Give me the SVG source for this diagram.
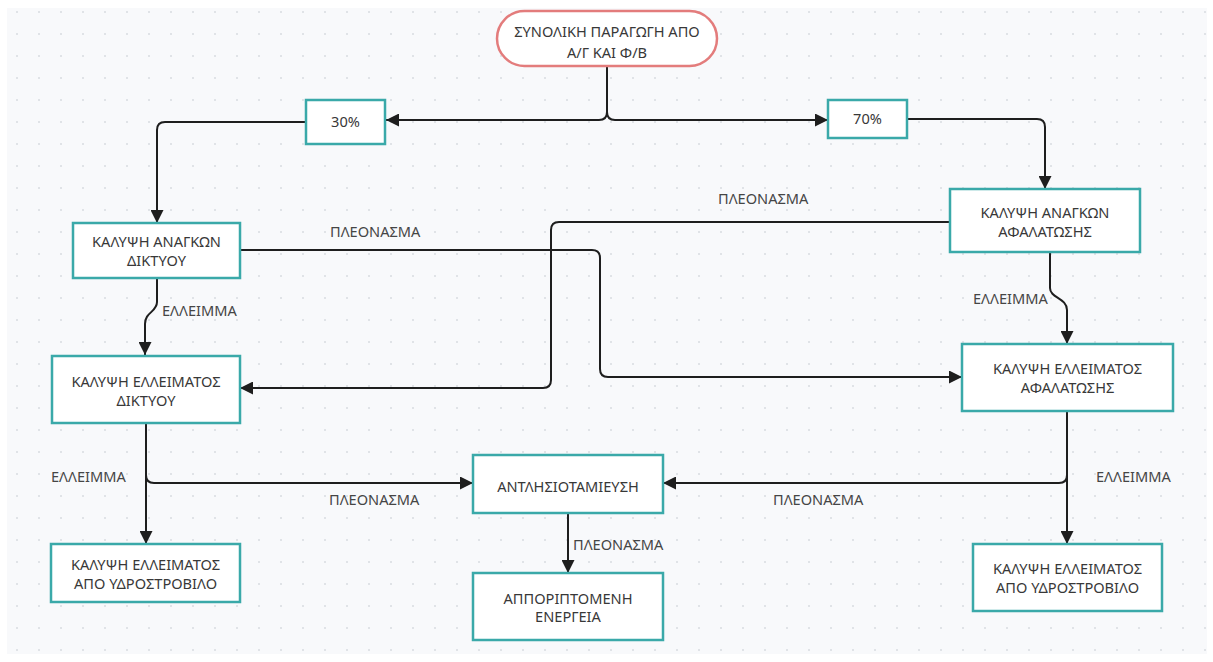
<svg xmlns="http://www.w3.org/2000/svg" width="1213" height="662" viewBox="0 0 1213 662">
  <defs>
    <pattern id="dots" x="6" y="1" width="22" height="22" patternUnits="userSpaceOnUse">
      <circle cx="11" cy="11" r="1" fill="#d9dce1"/>
    </pattern>
    <marker id="arrow" viewBox="0 0 12 12" refX="12" refY="6" markerWidth="13" markerHeight="13" markerUnits="userSpaceOnUse" orient="auto">
      <path d="M0,0 L12,6 L0,12 z" fill="#1e1e1e"/>
    </marker>
    <style>
      .box { fill: #ffffff; stroke: #3aa9a9; stroke-width: 2.5; }
      .start { fill: #ffffff; stroke: #e37c7c; stroke-width: 2.5; }
      .edge { fill: none; stroke: #1e1e1e; stroke-width: 2; stroke-linejoin: round; }
      .arr { marker-end: url(#arrow); }
      text { font-family: "Noto Sans", "Liberation Sans", sans-serif; font-size: 14.6px; fill: #383838; text-anchor: middle; }
      .lbl { fill: #454545; text-anchor: start; }
    </style>
  </defs>

  <!-- canvas -->
  <rect x="0" y="0" width="1213" height="662" fill="#ffffff"/>
  <rect x="7" y="8" width="1200" height="646" fill="#f8f9fb"/>
  <rect x="7" y="8" width="1200" height="646" fill="url(#dots)"/>

  <!-- connectors -->
  <g id="connectors">
    <path class="edge arr" d="M607,66 V112 Q607,120 599,120 H386"/>
    <path class="edge arr" d="M607,66 V112 Q607,120 615,120 H828"/>
    <path class="edge arr" d="M306,122 H165 Q157,122 157,130 V223"/>
    <path class="edge arr" d="M907,119 H1037 Q1045,119 1045,127 V189"/>
    <path class="edge arr" d="M157,278 V302 C157,312 145,312 145,324 V355"/>
    <path class="edge arr" d="M1050,252 V288 C1050,298 1067,298 1067,310 V344"/>
    <path class="edge arr" d="M240,250 H592 Q600,250 600,258 V369 Q600,377 608,377 H962"/>
    <path class="edge arr" d="M950,222 H559 Q551,222 551,230 V380 Q551,388 543,388 H240"/>
    <path class="edge arr" d="M146,423 V544"/>
    <path class="edge arr" d="M146,475 Q146,483 154,483 H473"/>
    <path class="edge arr" d="M1067,411 V544"/>
    <path class="edge arr" d="M1067,475 Q1067,483 1059,483 H663"/>
    <path class="edge arr" d="M568,513 V573"/>

    <text class="lbl" x="330" y="237">ΠΛΕΟΝΑΣΜΑ</text>
    <text class="lbl" x="718" y="204">ΠΛΕΟΝΑΣΜΑ</text>
    <text class="lbl" x="162" y="316">ΕΛΛΕΙΜΜΑ</text>
    <text class="lbl" x="973" y="304">ΕΛΛΕΙΜΜΑ</text>
    <text class="lbl" x="51" y="482">ΕΛΛΕΙΜΜΑ</text>
    <text class="lbl" x="329" y="505">ΠΛΕΟΝΑΣΜΑ</text>
    <text class="lbl" x="573" y="550">ΠΛΕΟΝΑΣΜΑ</text>
    <text class="lbl" x="773" y="505">ΠΛΕΟΝΑΣΜΑ</text>
    <text class="lbl" x="1096" y="482">ΕΛΛΕΙΜΜΑ</text>
  </g>

  <!-- nodes -->
  <g id="total-production">
    <rect class="start" x="497" y="11" width="220" height="55" rx="27.5"/>
    <text x="607" y="37">ΣΥΝΟΛΙΚΗ ΠΑΡΑΓΩΓΗ ΑΠΟ</text>
    <text x="607" y="58">Α/Γ ΚΑΙ Φ/Β</text>
  </g>
  <g id="share-30">
    <rect class="box" x="306" y="100" width="79" height="44"/>
    <text x="345.5" y="127">30%</text>
  </g>
  <g id="share-70">
    <rect class="box" x="828" y="100" width="79" height="38"/>
    <text x="867.5" y="124">70%</text>
  </g>
  <g id="grid-needs">
    <rect class="box" x="73" y="223" width="167" height="55"/>
    <text x="156.5" y="247">ΚΑΛΥΨΗ ΑΝΑΓΚΩΝ</text>
    <text x="156.5" y="266">ΔΙΚΤΥΟΥ</text>
  </g>
  <g id="desal-needs">
    <rect class="box" x="950" y="189" width="190" height="63"/>
    <text x="1045" y="218">ΚΑΛΥΨΗ ΑΝΑΓΚΩΝ</text>
    <text x="1045" y="237">ΑΦΑΛΑΤΩΣΗΣ</text>
  </g>
  <g id="grid-deficit">
    <rect class="box" x="52" y="356" width="188" height="67"/>
    <text x="146" y="387">ΚΑΛΥΨΗ ΕΛΛΕΙΜΑΤΟΣ</text>
    <text x="146" y="406">ΔΙΚΤΥΟΥ</text>
  </g>
  <g id="desal-deficit">
    <rect class="box" x="962" y="344" width="211" height="67"/>
    <text x="1067.5" y="374">ΚΑΛΥΨΗ ΕΛΛΕΙΜΑΤΟΣ</text>
    <text x="1067.5" y="393">ΑΦΑΛΑΤΩΣΗΣ</text>
  </g>
  <g id="pumped-storage">
    <rect class="box" x="473" y="455" width="190" height="58"/>
    <text x="568" y="492">ΑΝΤΛΗΣΙΟΤΑΜΙΕΥΣΗ</text>
  </g>
  <g id="curtailed-energy">
    <rect class="box" x="473" y="573" width="190" height="67"/>
    <text x="568" y="604">ΑΠΠΟΡΙΠΤΟΜΕΝΗ</text>
    <text x="568" y="622">ΕΝΕΡΓΕΙΑ</text>
  </g>
  <g id="hydro-left">
    <rect class="box" x="51" y="544" width="189" height="58"/>
    <text x="145.5" y="570">ΚΑΛΥΨΗ ΕΛΛΕΙΜΑΤΟΣ</text>
    <text x="145.5" y="589">ΑΠΟ ΥΔΡΟΣΤΡΟΒΙΛΟ</text>
  </g>
  <g id="hydro-right">
    <rect class="box" x="973" y="544" width="189" height="67"/>
    <text x="1067.5" y="574">ΚΑΛΥΨΗ ΕΛΛΕΙΜΑΤΟΣ</text>
    <text x="1067.5" y="593">ΑΠΟ ΥΔΡΟΣΤΡΟΒΙΛΟ</text>
  </g>
</svg>
